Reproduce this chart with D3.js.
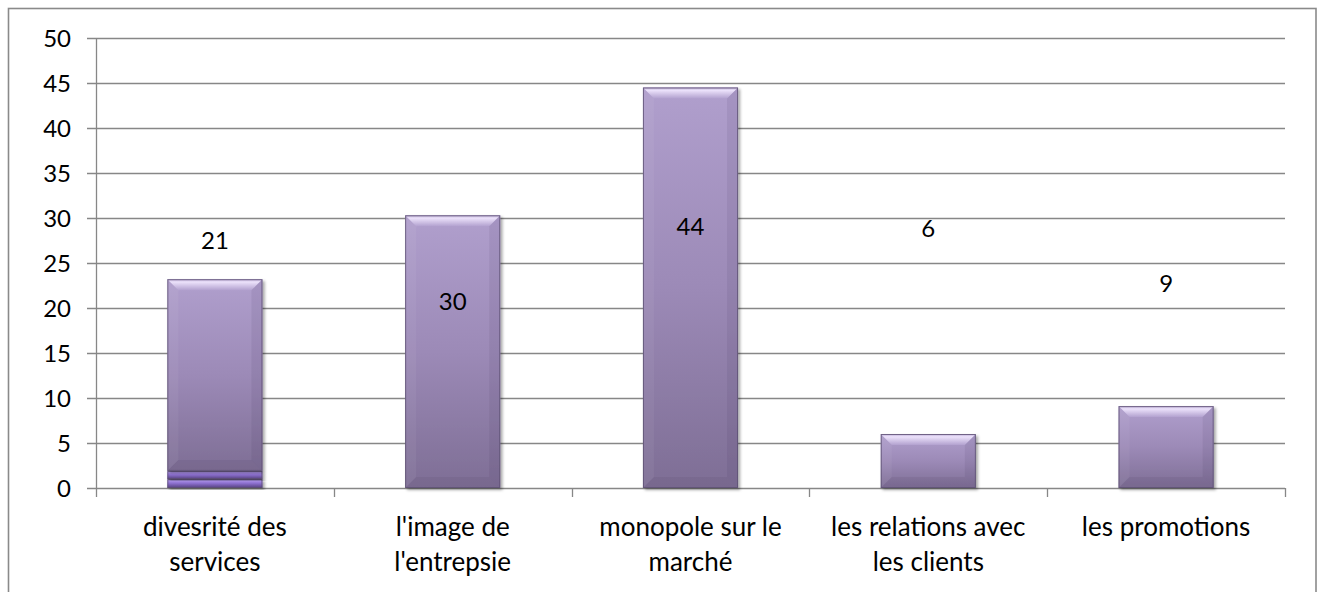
<!DOCTYPE html>
<html>
<head>
<meta charset="utf-8">
<script src="https://cdn.jsdelivr.net/npm/d3@7"></script>
<style>
  body { margin: 0; background: #fff; }
  svg text { font-family: Lato, "Open Sans", sans-serif; }
</style>
</head>
<body>
<div id="chart"></div>
<script>
// data
var categories = ["divesrité des services", "l'image de l'entrepsie", "monopole sur le marché", "les relations avec les clients", "les promotions"];
var catLines = [["divesrité des", "services"], ["l'image de", "l'entrepsie"], ["monopole sur le", "marché"], ["les relations avec", "les clients"], ["les promotions"]];
var baseA = [1, 0, 0, 0, 0];
var baseB = [0.9, 0, 0, 0, 0];
var mainVals = [21.3, 30.3, 44.5, 6, 9.1];
var valueLabels = ["21", "30", "44", "6", "9"];
var yTicks = [0, 5, 10, 15, 20, 25, 30, 35, 40, 45, 50];
// where the (hand moved) data labels sit, in axis units
var labelLevel = [27.5, 20.7, 29.1, 28.9, 22.7];

var W = 1322, H = 592;
var mLeft = 96, mRight = 1285, mTop = 38, mBottom = 488;

var svg = d3.select("#chart").append("svg")
  .attr("width", W).attr("height", H);

var defs = svg.append("defs");

var g1 = defs.append("linearGradient").attr("id", "barFill").attr("x1", 0).attr("y1", 0).attr("x2", 0).attr("y2", 1);
g1.append("stop").attr("offset", "0%").attr("stop-color", "#b09fcd");
g1.append("stop").attr("offset", "50%").attr("stop-color", "#9c8ab7");
g1.append("stop").attr("offset", "100%").attr("stop-color", "#7e6e95");

var g2 = defs.append("linearGradient").attr("id", "bevelTop").attr("x1", 0).attr("y1", 0).attr("x2", 0).attr("y2", 1);
g2.append("stop").attr("offset", "0%").attr("stop-color", "#b8a8d2");
g2.append("stop").attr("offset", "25%").attr("stop-color", "#ece2fb");
g2.append("stop").attr("offset", "100%").attr("stop-color", "#b2a1cf");

var g3 = defs.append("linearGradient").attr("id", "stripeFill").attr("x1", 0).attr("y1", 0).attr("x2", 0).attr("y2", 1);
g3.append("stop").attr("offset", "0%").attr("stop-color", "#bca6f0");
g3.append("stop").attr("offset", "45%").attr("stop-color", "#8f72d2");
g3.append("stop").attr("offset", "100%").attr("stop-color", "#54407e");

var sh = defs.append("filter").attr("id", "shadow").attr("x", "-10%").attr("y", "-10%").attr("width", "130%").attr("height", "130%");
sh.append("feDropShadow").attr("dx", 2).attr("dy", 2).attr("stdDeviation", 1.6)
  .attr("flood-color", "#000").attr("flood-opacity", 0.35);

// outer frame (bottom edge falls outside the picture)
svg.append("rect")
  .attr("x", 8.5).attr("y", 8.5).attr("width", 1307.5).attr("height", 600)
  .attr("fill", "none").attr("stroke", "#8a8a8a").attr("stroke-width", 1.6);

var x = d3.scaleBand().domain(categories).range([mLeft, mRight])
  .paddingInner(0.6).paddingOuter(0.3);
var y = d3.scaleLinear().domain([0, 50]).range([mBottom, mTop]);

// gridlines + y ticks
svg.append("g").selectAll("line").data(yTicks).enter().append("line")
  .attr("x1", mLeft - 9).attr("x2", mRight)
  .attr("y1", function(d) { return Math.round(y(d)) + 0.5; })
  .attr("y2", function(d) { return Math.round(y(d)) + 0.5; })
  .attr("stroke", "#878787").attr("stroke-width", 1.3);

svg.append("line")
  .attr("x1", mLeft + 0.5).attr("x2", mLeft + 0.5)
  .attr("y1", mTop).attr("y2", mBottom)
  .attr("stroke", "#878787").attr("stroke-width", 1.3);

svg.append("g").selectAll("text").data(yTicks).enter().append("text")
  .attr("x", 71).attr("y", function(d) { return y(d); })
  .attr("dy", "0.36em")
  .attr("text-anchor", "end")
  .attr("font-size", "24px").attr("fill", "#000")
  .text(function(d) { return d; });

// x ticks at the category borders
var step = (mRight - mLeft) / categories.length;
var borders = d3.range(categories.length + 1).map(function(i) { return mLeft + i * step; });
svg.append("g").selectAll("line").data(borders).enter().append("line")
  .attr("x1", function(d) { return Math.round(d) + 0.5; })
  .attr("x2", function(d) { return Math.round(d) + 0.5; })
  .attr("y1", mBottom).attr("y2", mBottom + 9)
  .attr("stroke", "#878787").attr("stroke-width", 1.3);

// stacked bars
var table = categories.map(function(c, i) {
  return { cat: c, a: baseA[i], b: baseB[i], m: mainVals[i] };
});
var stacked = d3.stack().keys(["a", "b", "m"])(table);

function bevelBar(sel, x0, y0, w, h, kind) {
  var b = Math.min(11, h / 2, w / 4);
  var grp = sel.append("g").attr("filter", "url(#shadow)");
  if (kind === "m") {
    grp.append("rect").attr("x", x0).attr("y", y0).attr("width", w).attr("height", h)
      .attr("fill", "url(#barFill)");
    grp.append("path")
      .attr("d", "M" + x0 + "," + y0 + "H" + (x0 + w) + "L" + (x0 + w - b) + "," + (y0 + b) + "H" + (x0 + b) + "Z")
      .attr("fill", "url(#bevelTop)");
    grp.append("path")
      .attr("d", "M" + x0 + "," + y0 + "L" + (x0 + b) + "," + (y0 + b) + "V" + (y0 + h - b) + "L" + x0 + "," + (y0 + h) + "Z")
      .attr("fill", "#ffffff").attr("opacity", 0.05);
    grp.append("path")
      .attr("d", "M" + (x0 + w) + "," + y0 + "L" + (x0 + w - b) + "," + (y0 + b) + "V" + (y0 + h - b) + "L" + (x0 + w) + "," + (y0 + h) + "Z")
      .attr("fill", "#2a1f3a").attr("opacity", 0.08);
    grp.append("path")
      .attr("d", "M" + x0 + "," + (y0 + h) + "L" + (x0 + b) + "," + (y0 + h - b) + "H" + (x0 + w - b) + "L" + (x0 + w) + "," + (y0 + h) + "Z")
      .attr("fill", "#2a1f3a").attr("opacity", 0.07);
  } else {
    grp.append("rect").attr("x", x0).attr("y", y0).attr("width", w).attr("height", h)
      .attr("fill", "url(#stripeFill)");
  }
  grp.append("rect").attr("x", x0 + 0.5).attr("y", y0 + 0.5).attr("width", w - 1).attr("height", h - 1)
    .attr("fill", "none").attr("stroke", "#5d5072").attr("stroke-width", 1).attr("opacity", 0.8);
}

var barsG = svg.append("g");
stacked.forEach(function(layer) {
  layer.forEach(function(d) {
    var h = y(d[0]) - y(d[1]);
    if (h <= 0) return;
    bevelBar(barsG, x(d.data.cat), y(d[1]), x.bandwidth(), h, layer.key);
  });
});

// data labels
svg.append("g").selectAll("text").data(categories).enter().append("text")
  .attr("x", function(d) { return x(d) + x.bandwidth() / 2; })
  .attr("y", function(d, i) { return y(labelLevel[i]); })
  .attr("dy", "0.36em")
  .attr("text-anchor", "middle")
  .attr("font-size", "24px").attr("fill", "#000")
  .text(function(d, i) { return valueLabels[i]; });

// category labels
var cl = svg.append("g").selectAll("text").data(categories).enter().append("text")
  .attr("text-anchor", "middle")
  .attr("font-size", "26px").attr("fill", "#000");
cl.each(function(d, i) {
  var t = d3.select(this);
  catLines[i].forEach(function(line, k) {
    t.append("tspan")
      .attr("x", x(d) + x.bandwidth() / 2)
      .attr("y", 527 + k * 35)
      .attr("dy", "0.36em")
      .text(line);
  });
});
</script>
</body>
</html>
